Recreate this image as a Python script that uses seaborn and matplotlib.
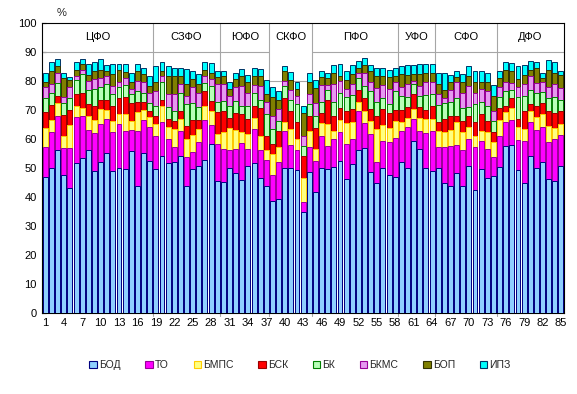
import numpy as np
import pandas as pd
import matplotlib.pyplot as plt
import seaborn as sns
from matplotlib.patches import Patch

# region numbers 1..85
regions = list(range(1, 86))

# segment values (%)
bod = [46.8, 49.9, 56.3, 47.4, 43.0, 51.6, 53.4, 56.0, 48.9, 52.0, 55.1, 48.9, 49.9, 49.7, 55.7, 43.9, 55.1, 52.3,
       49.7, 54.0, 51.6, 51.9, 54.0, 43.7, 49.7, 50.6, 52.8, 58.3, 45.6,
       45.1, 49.9, 48.3, 45.9, 50.6, 51.7, 46.6, 43.7,
       38.5, 39.1, 49.9, 50.0, 49.4, 34.7, 48.5,
       41.6, 49.9, 49.7, 50.2, 52.5, 46.0, 51.5, 56.2, 56.9, 48.7, 44.8, 50.0, 47.6, 46.8,
       51.9, 49.9, 59.2, 56.5, 50.0, 48.9,
       49.9, 44.7, 43.7, 48.3, 43.7, 50.6, 42.5, 49.7, 46.4, 47.1,
       50.2, 57.5, 58.0, 49.1, 44.7, 54.1, 49.9, 52.0, 46.0, 45.6, 50.6]
to = [10.5, 12.4, 11.7, 9.5, 13.8, 15.8, 14.4, 7.2, 13.0, 13.1, 11.8, 13.4, 15.2, 13.1, 7.5, 18.9, 11.4, 11.7,
      11.3, 11.7, 8.2, 5.2, 8.8, 10.0, 5.7, 8.2, 13.7, 6.6, 12.7,
      11.4, 6.1, 8.2, 12.6, 5.9, 11.7, 9.6, 9.1,
      8.9, 12.8, 12.7, 8.0, 6.6, 3.5, 8.6,
      10.9, 11.2, 8.0, 9.8, 9.8, 12.3, 8.5, 13.5, 8.5, 13.0, 7.2, 9.4, 11.2, 13.5,
      10.7, 14.1, 7.5, 6.3, 11.9, 13.9,
      7.4, 12.6, 14.0, 9.7, 12.3, 9.4, 14.6, 9.7, 10.1, 6.8,
      10.9, 8.2, 8.6, 10.5, 14.5, 11.9, 13.2, 12.1, 13.0, 14.2, 10.6]
bmps = [6.4, 4.2, 4.3, 4.2, 8.1, 4.1, 2.8, 4.6, 4.6, 5.2, 3.1, 3.8, 3.5, 5.8, 3.1, 6.6, 3.5, 3.7,
        4.0, 5.5, 4.4, 6.3, 4.1, 6.3, 6.0, 4.6, 5.0, 4.6, 3.4,
        5.8, 7.8, 6.6, 4.0, 5.2, 3.8, 4.9, 3.2,
        7.4, 5.2, 3.1, 5.4, 4.0, 8.4, 5.7,
        4.0, 4.4, 7.4, 2.8, 4.3, 7.2, 6.0, 2.9, 4.3, 4.6, 11.4, 5.5, 5.0, 5.8,
        3.1, 3.1, 3.6, 4.4, 5.0, 4.1,
        5.3, 5.0, 5.4, 7.7, 6.3, 4.2, 4.0, 3.4, 5.8, 4.9,
        5.4, 3.5, 4.0, 4.4, 4.1, 3.6, 4.3, 4.4, 5.4, 4.0, 4.0]
bsk = [5.5, 5.2, 2.6, 7.3, 5.1, 4.0, 5.1, 4.2, 5.0, 3.1, 3.5, 5.4, 5.5, 5.7, 6.0, 3.2, 2.6, 2.0,
       3.0, 2.3, 2.7, 2.9, 2.6, 4.6, 5.2, 3.2, 5.1, 3.7, 7.5,
       7.4, 3.4, 5.7, 6.1, 5.2, 4.3, 9.4, 5.1,
       3.5, 5.7, 8.4, 6.1, 5.7, 7.6, 5.2,
       7.3, 3.3, 8.3, 5.2, 4.0, 4.0, 4.4, 4.3, 4.4, 4.0, 4.6, 5.4, 5.0, 3.9,
       4.2, 4.0, 5.2, 3.9, 3.0, 4.6,
       3.4, 4.6, 4.9, 2.3, 3.8, 3.8, 4.9, 5.8, 4.0, 3.5,
       4.1, 2.3, 3.5, 2.9, 6.2, 2.4, 4.1, 3.8, 5.3, 5.2, 4.4]
bk = [4.8, 4.3, 4.4, 3.9, 4.1, 4.8, 6.6, 4.8, 5.7, 4.6, 5.4, 4.0, 3.7, 4.4, 3.2, 4.0, 3.4, 2.7,
      3.5, 6.0, 4.0, 3.4, 6.2, 7.4, 5.9, 4.5, 2.8, 5.1, 3.4,
      3.5, 4.3, 4.4, 2.9, 4.6, 4.5, 3.0, 7.5,
      5.1, 3.5, 4.2, 3.8, 6.3, 3.5, 4.0,
      4.2, 3.8, 3.4, 4.6, 5.4, 4.8, 4.9, 4.0, 4.2, 6.1, 4.6, 3.9, 3.2, 6.6,
      5.0, 3.5, 3.4, 3.8, 5.3, 4.0,
      5.8, 5.5, 4.6, 6.1, 4.5, 3.1, 6.0, 4.0, 5.2, 3.8,
      4.0, 4.9, 2.8, 7.4, 5.3, 4.8, 4.5, 4.0, 4.3, 5.3, 3.9]
bkms = [3.8, 3.1, 3.6, 2.0, 3.7, 1.5, 1.5, 3.3, 3.4, 3.0, 2.9, 2.8, 1.7, 2.3, 1.7, 3.5, 3.5, 3.6,
        5.0, 2.3, 4.6, 5.8, 3.2, 2.9, 5.3, 4.9, 2.4, 2.3, 6.3,
        5.7, 3.4, 4.6, 6.8, 4.5, 2.6, 4.8, 4.0,
        4.6, 4.0, 1.8, 3.6, 2.9, 3.4, 3.5,
        4.4, 6.0, 1.8, 6.5, 4.1, 2.9, 3.7, 2.0, 4.3, 3.1, 4.9, 4.4, 5.2, 3.2,
        3.1, 4.3, 1.2, 3.2, 4.3, 4.2,
        3.7, 1.7, 4.2, 5.7, 5.4, 7.0, 4.0, 4.6, 4.9, 3.6,
        3.2, 3.4, 2.3, 3.5, 4.2, 4.8, 3.3, 3.4, 4.0, 4.6, 4.1]
bop = [1.9, 4.2, 2.1, 6.7, 2.5, 2.0, 2.0, 2.0, 2.9, 2.8, 1.5, 4.0, 4.3, 2.1, 2.5, 3.2, 2.8, 2.3,
       3.3, 1.5, 6.3, 6.3, 2.9, 4.0, 2.8, 2.9, 1.9, 2.3, 2.3,
       2.9, 2.3, 2.8, 3.5, 3.7, 3.2, 3.5, 2.9,
       6.6, 3.0, 3.2, 3.5, 2.2, 8.0, 4.0,
       5.1, 2.8, 2.3, 3.6, 1.7, 3.1, 3.3, 1.7, 2.8, 4.0, 4.3, 3.2, 4.2, 2.0,
       4.3, 3.1, 2.2, 4.2, 3.1, 2.9,
       3.6, 2.7, 2.7, 1.7, 3.8, 3.7, 3.8, 2.6, 3.1, 5.2,
       3.2, 3.9, 4.1, 2.8, 3.0, 2.1, 5.0, 1.2, 5.8, 4.0, 4.4]
ipz = [3.0, 3.3, 2.5, 1.7, 1.2, 2.9, 1.9, 3.7, 3.2, 3.7, 2.3, 3.7, 2.2, 2.7, 3.2, 2.5, 2.3, 3.5,
       5.2, 3.1, 3.2, 2.6, 2.8, 5.2, 2.7, 3.4, 2.7, 3.2, 2.1,
       1.5, 2.5, 2.3, 2.3, 2.3, 2.8, 2.3, 4.8,
       3.2, 3.3, 1.9, 2.6, 2.6, 2.1, 3.4,
       2.9, 2.1, 2.0, 2.9, 4.2, 3.2, 3.2, 2.3, 2.5, 1.9, 2.6, 2.5, 2.4, 2.5,
       2.9, 3.4, 3.1, 3.4, 3.4, 3.4,
       3.8, 5.8, 2.6, 1.8, 2.5, 3.2, 3.5, 3.5, 3.4, 3.7,
       2.3, 2.7, 2.8, 4.6, 3.5, 3.1, 2.3, 1.8, 3.6, 3.7, 1.3]

series_names = ['БОД', 'ТО', 'БМПС', 'БСК', 'БК', 'БКМС', 'БОП', 'ИПЗ']
series_vals = [bod, to, bmps, bsk, bk, bkms, bop, ipz]
face = ['#8FCFFF', '#FF00FF', '#FFFF80', '#FF0000', '#B8FFB8', '#E699F0', '#808000', '#00FFFF']
edge = ['#000080', '#990099', '#FFCC00', '#990000', '#008000', '#990099', '#333300', '#003366']

districts = ['ЦФО', 'СЗФО', 'ЮФО', 'СКФО', 'ПФО', 'УФО', 'СФО', 'ДФО']
district_sizes = [18, 11, 8, 7, 14, 6, 10, 11]

sns.set_theme(style='white')
plt.rcParams['font.family'] = ['Liberation Sans', 'DejaVu Sans']

df = pd.DataFrame(dict(zip(series_names, series_vals)))
df['region'] = regions
cum = df[series_names].cumsum(axis=1)

fig = plt.figure(figsize=(5.77, 3.94), dpi=100)
ax = fig.add_axes([0.0733, 0.2063, 0.9042, 0.7353])

# stacked bars: draw running totals from the top layer down
for i in reversed(range(len(series_names))):
    sns.barplot(x=df['region'], y=cum[series_names[i]], color=face[i], edgecolor=edge[i],
                linewidth=0.7, width=0.8, saturation=1, errorbar=None, ax=ax, zorder=3)

# district separators and label boxes
start = 0
for name, n in zip(districts, district_sizes):
    x0, x1 = start - 0.5, start + n - 0.5
    ybox = 80 if name == 'СКФО' else 90
    ax.plot([x0, x1], [ybox, ybox], color='#A6A6A6', lw=0.8, zorder=1)
    if start + n < 85:
        ax.plot([x1, x1], [-1.2, 100], color='#A6A6A6', lw=0.8, zorder=1, clip_on=False)
    ax.text((x0 + x1) / 2, 95, name, ha='center', va='center', fontsize=8, color='black')
    start += n

ax.set_xlim(-0.5, 84.5)
ax.set_ylim(0, 100)
ax.set_xticks(range(0, 85, 3))
ax.set_xticklabels([str(r) for r in regions[::3]], fontsize=8, color='black')
ax.set_yticks(range(0, 101, 10))
ax.set_yticklabels([str(v) for v in range(0, 101, 10)], fontsize=8, color='black')
ax.tick_params(axis='x', length=0, pad=4)
ax.tick_params(axis='y', direction='in', length=3, width=0.8, color='black', left=True, pad=4)
ax.set_xlabel('')
ax.set_ylabel('')
for s in ax.spines.values():
    s.set_color('black')
    s.set_linewidth(0.8)

fig.text(62 / 577, 1 - 13 / 394, '%', ha='center', va='center', fontsize=8)

handles = [Patch(facecolor=face[i], edgecolor=edge[i], linewidth=0.8) for i in range(8)]
fig.legend(handles, series_names, loc='center', bbox_to_anchor=(0.52, 1 - 365 / 394), ncol=8,
           frameon=False, fontsize=7.5, handlelength=0.7, handleheight=0.7,
           handletextpad=0.2, columnspacing=2.4)

fig.savefig('out.png', dpi=100)
